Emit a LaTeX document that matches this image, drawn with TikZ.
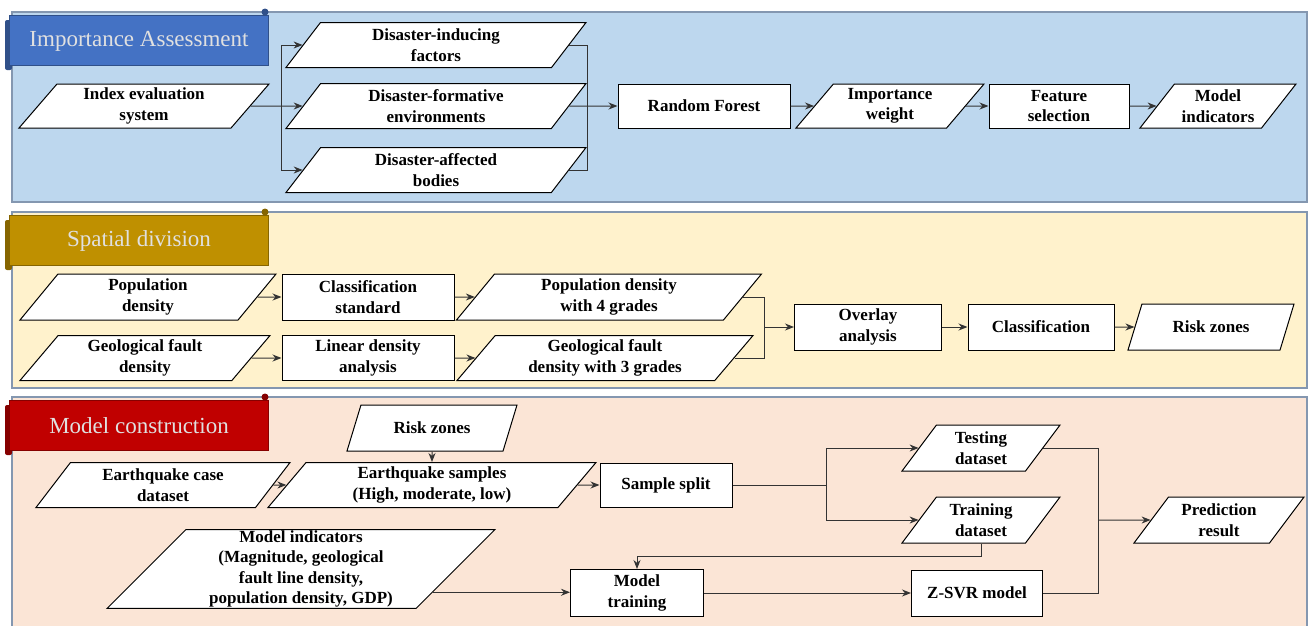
\documentclass[tikz,border=0pt]{standalone}
\usepackage{fontspec}
\setmainfont{Liberation Serif}
\usetikzlibrary{
  arrows.meta,
  shapes.geometric,
  chains,
  positioning,
  scopes
}
\definecolor{assessfill}{HTML}{BDD7EE}
\definecolor{assesstab}{HTML}{4472C4}
\definecolor{divisionfill}{HTML}{FFF2CC}
\definecolor{divisiontab}{HTML}{BF9000}
\definecolor{modelfill}{HTML}{FBE5D6}
\definecolor{modeltab}{HTML}{C00000}
\definecolor{frame}{HTML}{8497B0}

\begin{document}
\begin{tikzpicture}[x=1pt,y=-1pt,
      process/.style={
         rectangle,
         draw=black,
         line width=1pt,
         fill=white,
         inner sep=2pt,
         align=center,
         font=\bfseries\fontsize{17}{20.5}\selectfont
      },
      data/.style={
         trapezium,
         trapezium left angle=45,
         trapezium right angle=135,
         trapezium stretches body,
         draw=black,
         line width=1pt,
         fill=white,
         inner sep=1pt,
         align=center,
         font=\bfseries\fontsize{17}{20.5}\selectfont
      },
      panel/.style={draw=frame, line width=1.2pt},
      title/.style={text=white!88!black, font=\fontsize{23}{27}\selectfont},
      point/.style={coordinate},>={Stealth[length=9pt,width=7pt]},line width=1pt,draw=black!80,
      tip/.style={->,shorten >=0.007pt},
      hv path/.style={to path={-| (\tikztotarget)}},
      vh path/.style={to path={|- (\tikztotarget)}}
    ]
    \path[use as bounding box] (0,0) rectangle (1310,625);
    % the three bands with their tabs
    \foreach \ya/\yb/\back/\band/\ttl [count=\k] in {
        12/202/assessfill/assesstab/{Importance Assessment},
        212/388/divisionfill/divisiontab/{Spatial division},
        397/640/modelfill/modeltab/{Model construction}} {
      \filldraw[panel, fill=\back] (12,\ya) rectangle (1307,\yb);
      \fill[\band!70!black, rounded corners=2pt] (5,\ya+8) rectangle (12,\ya+58);
      \fill[\band!70!black] (265,\ya) circle (3.5pt);
      \filldraw[fill=\band, draw=\band!70!black, line width=0.6pt] (9,\ya+3) rectangle (268,\ya+53);
      \node (title\k) [title] at (139,\ya+29) {\ttl};
    }
    % importance assessment
    \node (idx) [data, minimum width=250pt, minimum height=44pt] at (144,106) {Index evaluation\\system};
    \node (dif) [data, minimum width=300pt, minimum height=45pt] at (436,45) {Disaster-inducing\\factors};
    \node (dfe) [data, minimum width=300pt, minimum height=45pt] at (436,106) {Disaster-formative\\environments};
    \node (dab) [data, minimum width=300pt, minimum height=45pt] at (436,170) {Disaster-affected\\bodies};
    \node (rf) [process, minimum width=172pt, minimum height=44pt] at (704,106) {Random Forest};
    \node (iw) [data, minimum width=188pt, minimum height=44pt] at (890,106) {Importance\\weight};
    \node (fs) [process, minimum width=140pt, minimum height=44pt] at (1059,106) {Feature\\selection};
    \node (mi1) [data, minimum width=156pt, minimum height=44pt] at (1218,106) {Model\\indicators};
    \node (s1) [point] at (281,106) {};
    \node (m1) [point] at (587,106) {};
    % spatial division
    \node (pd) [data, minimum width=256pt, minimum height=46pt] at (148,297) {Population\\density};
    \node (cs) [process, minimum width=172pt, minimum height=46pt] at (368,297) {Classification\\standard};
    \node (pd4) [data, minimum width=305pt, minimum height=46pt] at (609,297) {Population density\\with 4 grades};
    \node (gfd) [data, minimum width=250pt, minimum height=45pt] at (145,358) {Geological fault\\density};
    \node (lda) [process, minimum width=172pt, minimum height=45pt] at (368,358) {Linear density\\analysis};
    \node (gfd3) [data, minimum width=296pt, minimum height=45pt] at (605,358) {Geological fault\\density with 3 grades};
    \node (m2) [point] at (764,327) {};
    \node (oa) [process, minimum width=147pt, minimum height=46pt] at (868,327) {Overlay\\analysis};
    \node (cl) [process, minimum width=146pt, minimum height=46pt] at (1041,327) {Classification};
    \node (rz1) [data, minimum width=166pt, minimum height=46pt] at (1211,327) {Risk zones};
    % model construction
    \node (rz2) [data, minimum width=170pt, minimum height=46pt] at (432,428) {Risk zones};
    \node (ecd) [data, minimum width=254pt, minimum height=45pt] at (163,485) {Earthquake case\\dataset};
    \node (es) [data, minimum width=328pt, minimum height=45pt] at (432,485) {Earthquake samples\\(High, moderate, low)};
    \node (ss) [process, minimum width=132pt, minimum height=44pt] at (666,485) {Sample split};
    \node (s3) [point] at (826,485) {};
    \node (td) [data, minimum width=158pt, minimum height=46pt] at (981,448) {Testing\\dataset};
    \node (trd) [data, minimum width=158pt, minimum height=46pt] at (981,520) {Training\\dataset};
    \node (mi2) [data, minimum width=388pt, minimum height=78pt] at (301,569) {Model indicators\\(Magnitude, geological\\fault line density,\\population density, GDP)};
    \node (mt) [process, minimum width=133pt, minimum height=47pt] at (637,593) {Model\\training};
    \node (zsvr) [process, minimum width=131pt, minimum height=46pt] at (977,593) {Z-SVR model};
    \node (m3) [point] at (1098,520) {};
    \node (pr) [data, minimum width=170pt, minimum height=46pt] at (1219,520) {Prediction\\result};
    \node (k2) [point] at ([yshift=-13pt]trd.south) {};
  { [start chain]
       \chainin (idx);
       \chainin (s1)     [join];
  }
  { [start chain]
       \chainin (s1);
       \chainin (dif)    [join=by {vh path,tip}];
  }
  { [start chain]
       \chainin (s1);
       \chainin (dfe)    [join=by tip];
  }
  { [start chain]
       \chainin (s1);
       \chainin (dab)    [join=by {vh path,tip}];
  }
  { [start chain]
       \chainin (dif);
       \chainin (m1)     [join=by hv path];
  }
  { [start chain]
       \chainin (dab);
       \chainin (m1)     [join=by hv path];
  }
  { [start chain]
       \chainin (dfe);
       \chainin (rf)     [join=by tip];
       \chainin (iw)     [join=by tip];
       \chainin (fs)     [join=by tip];
       \chainin (mi1)    [join=by tip];
  }
  { [start chain]
       \chainin (pd);
       \chainin (cs)     [join=by tip];
       \chainin (pd4)    [join=by tip];
  }
  { [start chain]
       \chainin (gfd);
       \chainin (lda)    [join=by tip];
       \chainin (gfd3)   [join=by tip];
  }
  { [start chain]
       \chainin (pd4);
       \chainin (m2)     [join=by hv path];
  }
  { [start chain]
       \chainin (gfd3);
       \chainin (m2)     [join=by hv path];
  }
  { [start chain]
       \chainin (m2);
       \chainin (oa)     [join=by tip];
       \chainin (cl)     [join=by tip];
       \chainin (rz1)    [join=by tip];
  }
  { [start chain]
       \chainin (rz2);
       \chainin (es)     [join=by tip];
  }
  { [start chain]
       \chainin (ecd);
       \chainin (es)     [join=by tip];
       \chainin (ss)     [join=by tip];
       \chainin (s3)     [join];
  }
  { [start chain]
       \chainin (s3);
       \chainin (td)     [join=by {vh path,tip}];
  }
  { [start chain]
       \chainin (s3);
       \chainin (trd)    [join=by {vh path,tip}];
  }
  { [start chain]
       \chainin (td);
       \chainin (m3)     [join=by hv path];
  }
  { [start chain]
       \chainin (zsvr);
       \chainin (m3)     [join=by hv path];
  }
  { [start chain]
       \chainin (m3);
       \chainin (pr)     [join=by tip];
  }
  { [start chain]
       \chainin (mt);
       \chainin (zsvr)   [join=by tip];
  }
    \draw[tip] (trd.south) -- (k2) -| (mt.north);
    \draw[tip] (mi2.-10) -- (mi2.-10 -| mt.west);
\end{tikzpicture}
\end{document}
